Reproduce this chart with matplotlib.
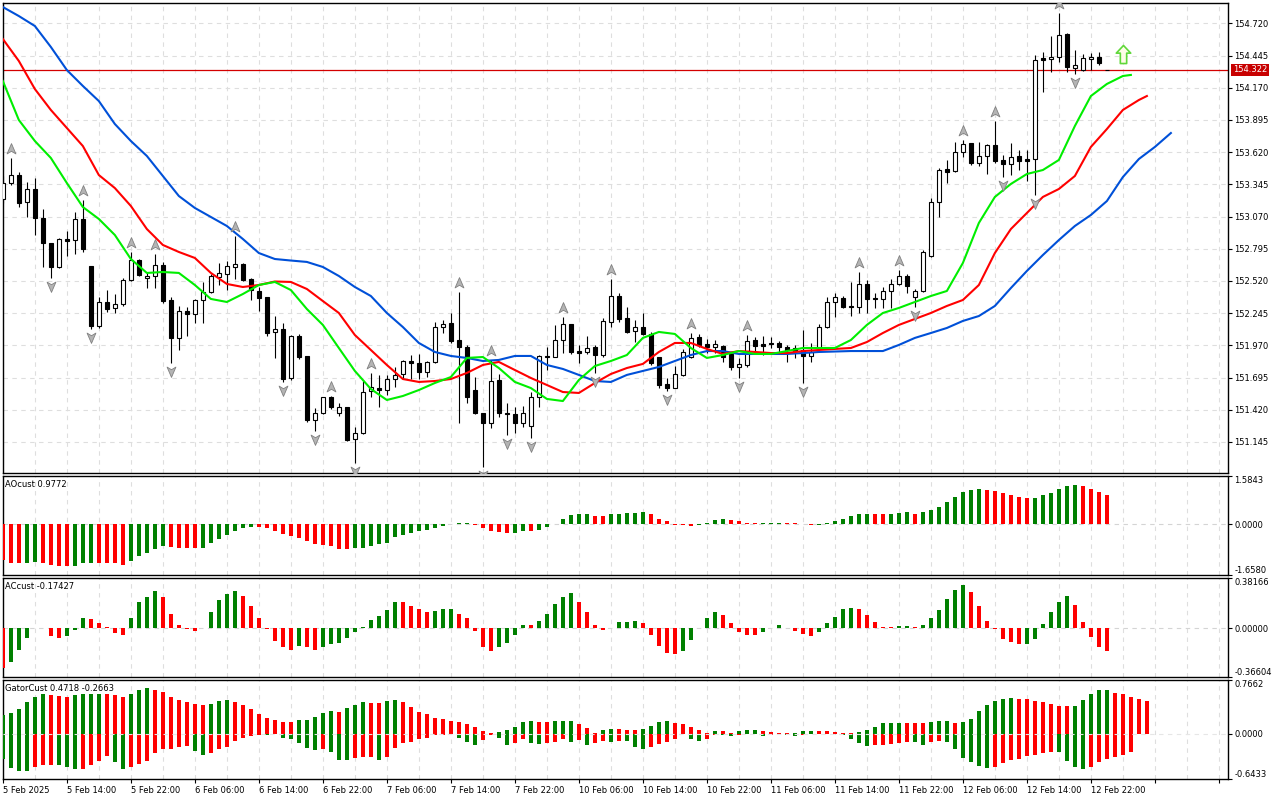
import matplotlib
matplotlib.use('Agg')
import matplotlib.pyplot as plt
from matplotlib.path import Path
from matplotlib.transforms import offset_copy, blended_transform_factory

plt.rcParams['font.family'] = ['DejaVu Sans']
plt.rcParams['font.size'] = 6

# ---------------- data (hourly bars, 5 Feb 06:00 -> 13 Feb 00:00) ----------------
opens = [153.219, 153.356, 153.424, 153.194, 153.305, 153.057, 152.844, 152.639, 152.878, 152.869,
         153.049, 152.647, 152.135, 152.340, 152.289, 152.323, 152.528, 152.699, 152.545, 152.562,
         152.656, 152.357, 152.033, 152.263, 152.237, 152.357, 152.425, 152.554, 152.579, 152.639,
         152.664, 152.536, 152.434, 152.383, 152.084, 152.109, 151.691, 152.050, 151.879, 151.332,
         151.392, 151.529, 151.392, 151.443, 151.170, 151.221, 151.580, 151.605, 151.588, 151.682,
         151.725, 151.836, 151.819, 151.742, 151.828, 152.126, 152.161, 152.015, 151.956, 151.588,
         151.392, 151.307, 151.674, 151.392, 151.383, 151.307, 151.281, 151.529, 151.879, 151.870,
         152.015, 152.152, 151.921, 151.913, 151.956, 151.887, 152.169, 152.391, 152.203, 152.092,
         152.126, 152.067, 151.870, 151.640, 151.605, 151.717, 151.870, 152.041, 151.981, 151.956,
         151.964, 151.896, 151.785, 151.802, 152.015, 151.981, 151.990, 151.990, 151.956, 151.947,
         151.930, 151.879, 151.947, 152.126, 152.340, 152.374, 152.306, 152.297, 152.494, 152.374,
         152.366, 152.434, 152.494, 152.562, 152.383, 152.434, 152.733, 153.194, 153.476, 153.459,
         153.621, 153.698, 153.527, 153.587, 153.681, 153.553, 153.518, 153.587, 153.561, 153.561,
         154.424, 154.415, 154.432, 154.629, 154.338, 154.321, 154.415, 154.432, 154.322]
highs = [153.416, 153.570, 153.450, 153.365, 153.399, 153.134, 152.844, 152.886, 152.946, 153.108,
         153.211, 152.647, 152.383, 152.442, 152.408, 152.545, 152.767, 152.707, 152.596, 152.750,
         152.682, 152.383, 152.306, 152.297, 152.366, 152.511, 152.579, 152.673, 152.690, 152.904,
         152.673, 152.545, 152.468, 152.383, 152.220, 152.161, 152.058, 152.067, 151.879, 151.435,
         151.529, 151.537, 151.477, 151.443, 151.272, 151.665, 151.734, 151.717, 151.717, 151.785,
         151.845, 151.887, 151.896, 151.836, 152.169, 152.186, 152.246, 152.425, 151.973, 151.699,
         151.392, 151.845, 151.725, 151.477, 151.443, 151.452, 151.571, 151.887, 151.956, 152.144,
         152.212, 152.152, 151.973, 152.050, 151.973, 152.203, 152.536, 152.417, 152.297, 152.186,
         152.246, 152.084, 151.870, 151.691, 151.793, 151.939, 152.075, 152.067, 152.024, 152.015,
         151.973, 151.904, 151.862, 152.058, 152.041, 152.050, 152.041, 152.007, 151.973, 151.973,
         152.101, 151.990, 152.152, 152.383, 152.417, 152.391, 152.511, 152.596, 152.528, 152.417,
         152.468, 152.536, 152.613, 152.579, 152.451, 152.784, 153.228, 153.484, 153.553, 153.706,
         153.723, 153.698, 153.706, 153.689, 153.886, 153.595, 153.698, 153.638, 153.638, 154.449,
         154.475, 154.612, 154.808, 154.637, 154.492, 154.458, 154.466, 154.475, 154.322]
lows = [153.185, 153.339, 153.151, 153.066, 152.912, 152.639, 152.545, 152.630, 152.733, 152.750,
        152.767, 152.109, 152.118, 152.255, 152.246, 152.306, 152.519, 152.562, 152.459, 152.459,
        152.331, 151.819, 151.930, 152.050, 152.161, 152.161, 152.417, 152.485, 152.442, 152.536,
        152.519, 152.357, 152.263, 152.050, 151.862, 151.657, 151.674, 151.853, 151.315, 151.238,
        151.383, 151.426, 151.366, 151.153, 150.965, 151.213, 151.529, 151.443, 151.546, 151.614,
        151.682, 151.682, 151.682, 151.699, 151.819, 152.075, 151.990, 151.307, 151.477, 151.383,
        150.931, 151.264, 151.358, 151.204, 151.221, 151.272, 151.179, 151.443, 151.759, 151.870,
        151.904, 151.896, 151.819, 151.896, 151.734, 151.870, 152.126, 152.169, 152.075, 151.998,
        152.058, 151.802, 151.605, 151.580, 151.605, 151.708, 151.862, 151.956, 151.904, 151.904,
        151.828, 151.759, 151.691, 151.785, 151.904, 151.887, 151.947, 151.913, 151.828, 151.862,
        151.648, 151.828, 151.921, 152.118, 152.212, 152.289, 152.220, 152.246, 152.246, 152.289,
        152.289, 152.289, 152.485, 152.417, 152.297, 152.425, 152.724, 153.066, 153.356, 153.450,
        153.578, 153.510, 153.501, 153.433, 153.527, 153.407, 153.424, 153.467, 153.373, 153.254,
        154.133, 154.304, 154.390, 154.304, 154.287, 154.313, 154.321, 154.364, 154.322]
closes = [153.356, 153.424, 153.185, 153.305, 153.057, 152.844, 152.639, 152.878, 152.861, 153.049,
          152.792, 152.135, 152.340, 152.280, 152.323, 152.528, 152.699, 152.571, 152.562, 152.656,
          152.348, 152.033, 152.263, 152.237, 152.357, 152.425, 152.562, 152.588, 152.647, 152.664,
          152.528, 152.442, 152.374, 152.075, 152.109, 151.682, 152.050, 151.870, 151.332, 151.392,
          151.529, 151.443, 151.443, 151.161, 151.221, 151.571, 151.614, 151.588, 151.682, 151.717,
          151.836, 151.819, 151.742, 151.828, 152.126, 152.152, 152.007, 151.956, 151.529, 151.392,
          151.307, 151.665, 151.392, 151.383, 151.307, 151.392, 151.529, 151.879, 151.870, 152.015,
          152.152, 151.913, 151.904, 151.947, 151.887, 152.178, 152.391, 152.195, 152.084, 152.126,
          152.067, 151.819, 151.631, 151.605, 151.725, 151.913, 152.033, 151.973, 151.956, 151.981,
          151.870, 151.785, 151.811, 152.007, 151.964, 151.964, 151.981, 151.956, 151.930, 151.921,
          151.879, 151.913, 152.126, 152.340, 152.383, 152.297, 152.297, 152.494, 152.366, 152.366,
          152.434, 152.494, 152.562, 152.477, 152.434, 152.767, 153.194, 153.467, 153.450, 153.621,
          153.689, 153.527, 153.587, 153.681, 153.544, 153.518, 153.578, 153.544, 153.544, 154.407,
          154.407, 154.432, 154.620, 154.347, 154.364, 154.424, 154.432, 154.381, 154.322]

# Alligator lines (read every second bar, shifted forward 8 / 5 / 3 bars)
jaw_bars = list(range(0, 147, 2))
jaw = [154.859, 154.782, 154.697, 154.518, 154.321, 154.185, 154.056, 153.860, 153.715, 153.587,
       153.416, 153.245, 153.143, 153.066, 152.989, 152.878, 152.758, 152.707, 152.694, 152.682,
       152.639, 152.562, 152.468, 152.391, 152.246, 152.126, 151.990, 151.913, 151.879, 151.862,
       151.836, 151.845, 151.879, 151.879, 151.802, 151.768, 151.717, 151.665, 151.657, 151.717,
       151.751, 151.785, 151.836, 151.887, 151.921, 151.921, 151.896, 151.896, 151.896, 151.896,
       151.904, 151.913, 151.917, 151.921, 151.921, 151.921, 151.973, 152.033, 152.075, 152.118,
       152.178, 152.220, 152.306, 152.459, 152.605, 152.741, 152.869, 152.989, 153.083, 153.202,
       153.407, 153.561, 153.664, 153.783]
teeth_bars = list(range(0, 143, 2)) + [143]
teeth = [154.586, 154.398, 154.159, 153.980, 153.826, 153.672, 153.424, 153.313, 153.160, 152.963,
         152.827, 152.767, 152.716, 152.588, 152.494, 152.468, 152.485, 152.515, 152.511, 152.451,
         152.348, 152.246, 152.058, 151.930, 151.802, 151.682, 151.657, 151.665, 151.682, 151.734,
         151.802, 151.828, 151.759, 151.691, 151.631, 151.571, 151.563, 151.648, 151.725, 151.776,
         151.811, 151.913, 151.990, 151.990, 151.939, 151.896, 151.921, 151.913, 151.904, 151.904,
         151.921, 151.930, 151.939, 151.947, 151.998, 152.075, 152.144, 152.195, 152.246, 152.306,
         152.357, 152.485, 152.758, 152.963, 153.100, 153.237, 153.305, 153.416, 153.664, 153.817,
         153.980, 154.065, 154.099]
lips_bars = list(range(0, 141, 2)) + [141]
lips = [154.227, 153.894, 153.715, 153.570, 153.356, 153.151, 153.049, 152.912, 152.707, 152.588,
        152.596, 152.588, 152.485, 152.366, 152.340, 152.408, 152.485, 152.511, 152.442, 152.280,
        152.144, 151.947, 151.751, 151.597, 151.503, 151.537, 151.588, 151.648, 151.699, 151.862,
        151.870, 151.776, 151.657, 151.605, 151.512, 151.494, 151.674, 151.793, 151.836, 151.887,
        152.033, 152.084, 152.067, 151.947, 151.862, 151.887, 151.921, 151.896, 151.896, 151.921,
        151.947, 151.947, 151.947, 152.015, 152.144, 152.246, 152.289, 152.340, 152.391, 152.434,
        152.673, 153.015, 153.237, 153.348, 153.433, 153.467, 153.553, 153.843, 154.099, 154.202,
        154.270, 154.279]

fractal_up = [1, 10, 16, 19, 29, 41, 46, 57, 61, 70, 76, 86, 93, 107, 112, 120, 124, 132]
fractal_down = [6, 11, 21, 35, 39, 44, 60, 63, 66, 74, 83, 92, 100, 114, 125, 129, 134]
signal_bar, signal_price = 140, 154.458
last_price = 154.322

ao = [-1.17, -1.25, -1.27, -1.26, -1.23, -1.26, -1.32, -1.36, -1.37, -1.36,
      -1.26, -1.25, -1.26, -1.27, -1.28, -1.32, -1.19, -1.03, -0.95, -0.81,
      -0.70, -0.74, -0.77, -0.78, -0.79, -0.77, -0.62, -0.49, -0.35, -0.22,
      -0.11, -0.09, -0.10, -0.11, -0.22, -0.33, -0.39, -0.46, -0.55, -0.65,
      -0.68, -0.70, -0.81, -0.82, -0.79, -0.78, -0.70, -0.65, -0.60, -0.41,
      -0.35, -0.29, -0.22, -0.18, -0.13, -0.04, 0.02, 0.045, 0.055, -0.01,
      -0.11, -0.22, -0.24, -0.29, -0.27, -0.22, -0.23, -0.18, -0.09, 0.02,
      0.16, 0.30, 0.33, 0.335, 0.29, 0.285, 0.33, 0.355, 0.38, 0.385,
      0.41, 0.33, 0.19, 0.10, -0.01, -0.035, -0.055, -0.02, 0.055, 0.13,
      0.16, 0.13, 0.10, 0.055, 0.03, 0.035, 0.055, 0.06, 0.045, 0.03,
      0.005, -0.02, -0.01, 0.03, 0.10, 0.19, 0.26, 0.33, 0.355, 0.35,
      0.33, 0.355, 0.36, 0.39, 0.355, 0.39, 0.46, 0.58, 0.72, 0.91,
      1.07, 1.14, 1.17, 1.14, 1.10, 1.04, 0.97, 0.91, 0.85, 0.86,
      0.95, 1.04, 1.17, 1.26, 1.30, 1.26, 1.17, 1.07, 0.9772]
ac = [-0.30, -0.255, -0.165, -0.075, 0.003, 0.004, -0.06, -0.075, -0.06, -0.015,
      0.075, 0.07, 0.04, 0.007, -0.033, -0.05, 0.075, 0.195, 0.235, 0.28,
      0.235, 0.11, 0.027, -0.007, -0.023, 0.001, 0.12, 0.21, 0.255, 0.28,
      0.245, 0.17, 0.08, -0.003, -0.095, -0.145, -0.165, -0.135, -0.14, -0.165,
      -0.145, -0.12, -0.115, -0.075, -0.027, 0.01, 0.065, 0.09, 0.135, 0.20,
      0.198, 0.17, 0.145, 0.12, 0.127, 0.145, 0.148, 0.11, 0.075, -0.018,
      -0.14, -0.17, -0.145, -0.11, -0.05, 0.027, 0.025, 0.055, 0.11, 0.18,
      0.235, 0.265, 0.195, 0.125, 0.027, -0.015, 0.005, 0.048, 0.05, 0.055,
      0.04, -0.05, -0.135, -0.19, -0.195, -0.17, -0.09, 0.002, 0.08, 0.12,
      0.10, 0.04, -0.025, -0.05, -0.052, -0.025, 0.002, 0.025, 0.001, -0.018,
      -0.04, -0.06, -0.025, 0.04, 0.085, 0.145, 0.155, 0.148, 0.10, 0.048,
      0.007, 0.006, 0.015, 0.016, 0.007, 0.025, 0.08, 0.14, 0.22, 0.29,
      0.323, 0.27, 0.17, 0.056, -0.007, -0.084, -0.107, -0.117, -0.116, -0.08,
      0.033, 0.125, 0.20, 0.24, 0.178, 0.048, -0.064, -0.14, -0.17427]
gator_up = [0.263, 0.292, 0.359, 0.445, 0.517, 0.565, 0.551, 0.541, 0.527, 0.55,
            0.56, 0.565, 0.57, 0.565, 0.55, 0.52, 0.565, 0.62, 0.645, 0.63,
            0.59, 0.53, 0.475, 0.445, 0.43, 0.41, 0.43, 0.46, 0.475, 0.445,
            0.41, 0.35, 0.28, 0.23, 0.19, 0.17, 0.165, 0.19, 0.195, 0.24,
            0.29, 0.325, 0.31, 0.36, 0.41, 0.445, 0.44, 0.435, 0.46, 0.475,
            0.445, 0.385, 0.31, 0.275, 0.23, 0.215, 0.18, 0.16, 0.135, 0.095,
            0.04, 0.01, 0.02, 0.045, 0.095, 0.16, 0.175, 0.163, 0.16, 0.175,
            0.185, 0.187, 0.135, 0.085, 0.005, 0.045, 0.07, 0.06, 0.058, 0.045,
            0.07, 0.11, 0.16, 0.175, 0.15, 0.135, 0.095, 0.05, 0.005, 0.035,
            0.033, 0.01, 0.035, 0.048, 0.049, 0.035, 0.02, 0.008, 0.006, 0.01,
            0.035, 0.036, 0.034, 0.033, 0.02, 0.005, 0.003, 0.02, 0.058, 0.095,
            0.145, 0.146, 0.158, 0.157, 0.156, 0.15, 0.168, 0.177, 0.178, 0.158,
            0.168, 0.215, 0.32, 0.41, 0.46, 0.50, 0.505, 0.50, 0.49, 0.46,
            0.445, 0.43, 0.40, 0.39, 0.40, 0.475, 0.56, 0.62, 0.622, 0.575,
            0.56, 0.53, 0.50, 0.4718]
gator_down = [0.36, 0.49, 0.527, 0.53, 0.47, 0.445, 0.445, 0.446, 0.48, 0.51,
              0.50, 0.445, 0.385, 0.32, 0.40, 0.50, 0.475, 0.43, 0.39, 0.28,
              0.225, 0.215, 0.185, 0.18, 0.25, 0.30, 0.27, 0.225, 0.19, 0.11,
              0.057, 0.034, 0.024, 0.025, 0.01, 0.057, 0.08, 0.14, 0.21, 0.24,
              0.225, 0.26, 0.37, 0.371, 0.345, 0.335, 0.33, 0.37, 0.335, 0.20,
              0.135, 0.12, 0.08, 0.057, 0.024, 0.014, 0.005, 0.057, 0.12, 0.155,
              0.096, 0.014, 0.057, 0.155, 0.135, 0.08, 0.13, 0.148, 0.134, 0.12,
              0.07, 0.12, 0.09, 0.155, 0.14, 0.105, 0.12, 0.104, 0.11, 0.19,
              0.225, 0.19, 0.145, 0.125, 0.08, 0.005, 0.08, 0.10, 0.07, 0.014,
              0.024, 0.038, 0.024, 0.005, 0.004, 0.038, 0.024, 0.005, 0.024, 0.038,
              0.014, 0.005, 0.004, 0.003, 0.002, 0.024, 0.08, 0.14, 0.17, 0.168,
              0.16, 0.153, 0.14, 0.125, 0.126, 0.155, 0.125, 0.11, 0.125, 0.225,
              0.345, 0.41, 0.455, 0.485, 0.47, 0.415, 0.37, 0.368, 0.325, 0.30,
              0.27, 0.255, 0.26, 0.385, 0.47, 0.51, 0.47, 0.41, 0.355, 0.34,
              0.31, 0.2663]

price_ticks = [154.720, 154.445, 154.170, 153.895, 153.620, 153.345, 153.070,
               152.795, 152.520, 152.245, 151.970, 151.695, 151.420, 151.145]
date_labels = ['5 Feb 2025', '5 Feb 14:00', '5 Feb 22:00', '6 Feb 06:00', '6 Feb 14:00',
               '6 Feb 22:00', '7 Feb 06:00', '7 Feb 14:00', '7 Feb 22:00', '10 Feb 06:00',
               '10 Feb 14:00', '10 Feb 22:00', '11 Feb 06:00', '11 Feb 14:00', '11 Feb 22:00',
               '12 Feb 06:00', '12 Feb 14:00', '12 Feb 22:00']

GREEN = '#008000'
RED = '#ff0000'
X_MIN, X_MAX = -0.02, 153.08


def trend_colors(vals, first):
    cols = []
    cur = first
    for i, v in enumerate(vals):
        if i > 0 and v > vals[i - 1]:
            cur = GREEN
        elif i > 0 and v < vals[i - 1]:
            cur = RED
        cols.append(cur)
    return cols


def style_panel(a):
    for s in a.spines.values():
        s.set_color('black')
        s.set_linewidth(1.0)
    a.yaxis.tick_right()
    a.tick_params(axis='y', direction='out', length=3, width=0.8, pad=2,
                  labelsize=6, colors='black')
    a.tick_params(axis='x', bottom=False, labelbottom=False)
    for xv in range(0, 153, 4):
        a.axvline(xv, color='#dedede', linestyle=(0, (4, 4)), linewidth=0.8, zorder=0)
    a.set_xlim(X_MIN, X_MAX)
    a.set_facecolor('white')


def edge_labels(a, lo, hi, fmt):
    a.set_yticks([lo, 0, hi])
    a.set_yticklabels([fmt % lo, fmt % 0, fmt % hi])
    labs = a.get_yticklabels()
    labs[0].set_va('bottom')
    labs[-1].set_va('top')
    a.set_ylim(lo, hi)


fig = plt.figure(figsize=(12.8, 8), dpi=100, facecolor='white')
L, W = 0.0021, 0.9569
ax = fig.add_axes([L, 0.40913, W, 0.5875])
ax_ao = fig.add_axes([L, 0.28125, W, 0.12375])
ax_ac = fig.add_axes([L, 0.15413, W, 0.12375])
ax_g = fig.add_axes([L, 0.02663, W, 0.12338])
for a in (ax, ax_ao, ax_ac, ax_g):
    style_panel(a)

# ---------------- price panel ----------------
bars = list(range(len(opens)))
for p in price_ticks:
    ax.axhline(p, color='#dedede', linestyle=(0, (4, 4)), linewidth=0.8, zorder=0)
ax.axhline(last_price, color='#d40000', linewidth=0.9, zorder=2)

ax.vlines(bars, lows, highs, color='black', linewidth=0.8, zorder=3)
bottoms = [min(o, c) for o, c in zip(opens, closes)]
heights = [max(abs(c - o), 0.003) for o, c in zip(opens, closes)]
faces = ['white' if c >= o else 'black' for o, c in zip(opens, closes)]
ax.bar(bars, heights, bottom=bottoms, width=0.55, color=faces,
       edgecolor='black', linewidth=0.8, zorder=4)

ax.plot(jaw_bars, jaw, color='#0050d8', linewidth=1.5, zorder=5)
ax.plot(teeth_bars, teeth, color='#ff0000', linewidth=1.5, zorder=5)
ax.plot(lips_bars, lips, color='#00ee00', linewidth=1.5, zorder=5)

up_head = Path([(0, 1), (0.75, -0.75), (0, -0.3), (-0.75, -0.75), (0, 1)], closed=True)
down_head = Path([(0, -1), (0.75, 0.75), (0, 0.3), (-0.75, 0.75), (0, -1)], closed=True)
up_tr = offset_copy(ax.transData, fig=fig, y=6.3, units='points')
down_tr = offset_copy(ax.transData, fig=fig, y=-5.8, units='points')
ax.plot(fractal_up, [highs[i] for i in fractal_up], linestyle='none', marker=up_head,
        markersize=8.5, markerfacecolor='#b4b4b4', markeredgecolor='#808080',
        markeredgewidth=0.6, transform=up_tr, zorder=6)
ax.plot(fractal_down, [lows[i] for i in fractal_down], linestyle='none', marker=down_head,
        markersize=8.5, markerfacecolor='#b4b4b4', markeredgecolor='#808080',
        markeredgewidth=0.6, transform=down_tr, zorder=6)

signal_arrow = Path([(0, 1), (0.8, 0.15), (0.35, 0.15), (0.35, -1), (-0.35, -1),
                     (-0.35, 0.15), (-0.8, 0.15), (0, 1)], closed=True)
ax.plot([signal_bar], [signal_price], linestyle='none', marker=signal_arrow, markersize=13,
        markerfacecolor='#fffde8', markeredgecolor='#5fd83a', markeredgewidth=1.2, zorder=6)

ax.set_ylim(150.882, 154.896)
ax.set_yticks(price_ticks)
ax.set_yticklabels(['%.3f' % p for p in price_ticks])
ax.text(1.0045, last_price, '%.3f' % last_price, color='white', fontsize=6,
        ha='left', va='center',
        transform=blended_transform_factory(ax.transAxes, ax.transData),
        bbox=dict(boxstyle='square,pad=0.22', facecolor='#c80000', edgecolor='none'),
        zorder=10, clip_on=False)

# ---------------- AO ----------------
ax_ao.axhline(0, color='#d4d4d4', linestyle=(0, (4, 4)), linewidth=0.8, zorder=1)
ax_ao.bar(bars, ao, width=0.5, color=trend_colors(ao, RED), zorder=3)
edge_labels(ax_ao, -1.6580, 1.5843, '%.4f')
ax_ao.text(0.002, 0.955, 'AOcust 0.9772', transform=ax_ao.transAxes, va='top', ha='left')

# ---------------- AC ----------------
ax_ac.axhline(0, color='#d4d4d4', linestyle=(0, (4, 4)), linewidth=0.8, zorder=1)
ax_ac.bar(bars, ac, width=0.5, color=trend_colors(ac, RED), zorder=3)
edge_labels(ax_ac, -0.36604, 0.38166, '%.5f')
ax_ac.text(0.002, 0.955, 'ACcust -0.17427', transform=ax_ac.transAxes, va='top', ha='left')

# ---------------- Gator ----------------
g_up_x = list(range(len(gator_up)))
g_dn_x = list(range(len(gator_down)))
ax_g.bar(g_up_x, gator_up, width=0.5, color=trend_colors(gator_up, GREEN), zorder=3)
ax_g.bar(g_dn_x, [-v for v in gator_down], width=0.5,
         color=trend_colors(gator_down, GREEN), zorder=3)
ax_g.axhline(0, color='#e6e6e6', linestyle=(0, (4, 4)), linewidth=0.8, zorder=4)
edge_labels(ax_g, -0.6433, 0.7662, '%.4f')
ax_g.text(0.002, 0.955, 'GatorCust 0.4718 -0.2663', transform=ax_g.transAxes,
          va='top', ha='left')

xt = list(range(0, 153, 8))
ax_g.set_xticks(xt)
ax_g.set_xticklabels(date_labels + [''] * (len(xt) - len(date_labels)))
ax_g.tick_params(axis='x', bottom=True, labelbottom=True, direction='out', length=3,
                 width=0.8, pad=2, labelsize=6)
for lab in ax_g.get_xticklabels():
    lab.set_ha('left')
ax_g.set_xlim(X_MIN, X_MAX)

fig.savefig('out.png', dpi=100, facecolor='white')
